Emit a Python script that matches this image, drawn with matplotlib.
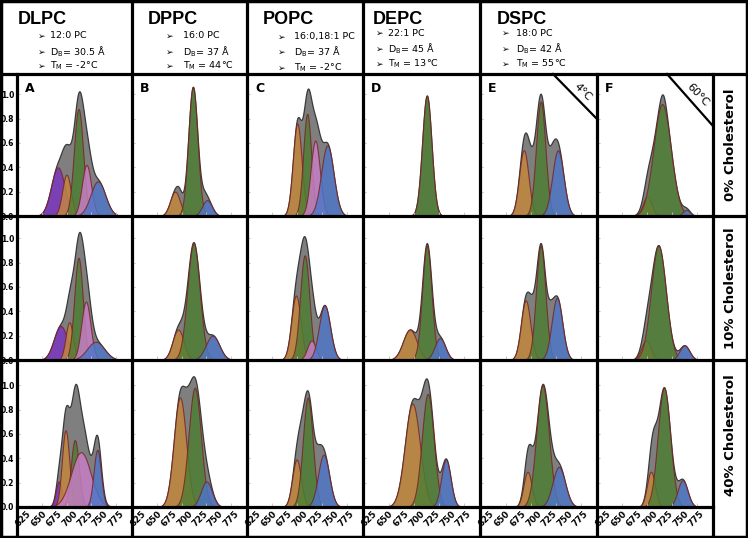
import numpy as np
import matplotlib
matplotlib.use("Agg")
import matplotlib.pyplot as plt

# header info per lipid column
LIPIDS = ["DLPC", "DPPC", "POPC", "DEPC", "DSPC"]
CHAINS = ["12:0 PC", "16:0 PC", "16:0,18:1 PC", "22:1 PC", "18:0 PC"]
THICKNESS = ["30.5", "37", "37", "45", "42"]
MELT_TEMP = ["-2", "44", "-2", "13", "55"]

PANEL_LETTERS = ["A", "B", "C", "D", "E", "F"]
ROW_LABELS = ["0% Cholesterol", "10% Cholesterol", "40% Cholesterol"]
CORNER_TEMPS = ["4°C", "60°C"]
X_TICKS = [625, 650, 675, 700, 725, 750, 775]
Y_TICKS = [0.0, 0.2, 0.4, 0.6, 0.8, 1.0]

# fitted components (centre, height, width); rows = cholesterol, cols = A..F
PURPLE = [
    [(665.5, 0.40, 11), None, None, None, None, None],
    [(670, 0.28, 11), None, None, None, None, None],
    [(667, 0.21, 5), None, None, None, None, None],
]
ORANGE = [
    [(679.5, 0.34, 7), (669, 0.20, 8), (680, 0.76, 7), None, (669, 0.54, 7.5), (680, 0.16, 7)],
    [(684, 0.31, 6), (674, 0.25, 9), (678, 0.53, 7.5), (674, 0.25, 11), (672, 0.49, 7.5), (678, 0.16, 7.5)],
    [(678, 0.63, 6), (677, 0.90, 10), (679, 0.39, 7), (678, 0.85, 12), (675, 0.29, 6.5), (686, 0.29, 6.5)],
]
GREEN = [
    [(699, 0.88, 7.5), (698, 1.06, 7.5), (696, 0.84, 6.5), (701, 0.99, 7.5), (696, 0.94, 7.5), (704, 0.92, 14)],
    [(699, 0.84, 7), (699, 0.96, 10), (692, 0.86, 7.5), (701, 0.94, 7.5), (696, 0.94, 7.5), (698, 0.94, 12)],
    [(693, 0.55, 6.5), (701, 0.98, 10), (697, 0.90, 8), (702.5, 0.93, 9.5), (699, 1.00, 10), (707, 0.98, 10)],
]
PINK = [
    [(712, 0.42, 7.5), None, (709, 0.62, 7.5), None, None, None],
    [(711, 0.48, 7.5), None, (703, 0.16, 7), None, None, None],
    [(703, 0.45, 16), None, None, None, None, None],
]
BLUE = [
    [(730.5, 0.285, 12), (721, 0.13, 8), (728.5, 0.58, 10), None, (723.5, 0.54, 9), (743, 0.05, 6)],
    [(727, 0.15, 14), (730, 0.20, 11), (724, 0.45, 9), (722, 0.18, 8.5), (722, 0.51, 8.5), (740, 0.12, 8)],
    [(729.5, 0.47, 6), (720, 0.21, 9), (722.5, 0.43, 9), (731.5, 0.39, 7.5), (725, 0.33, 10), (737, 0.22, 8)],
]
# extra signal in the measured (grey) envelope not covered by the fits
GRAY_EXTRA = [
    [[(688, 0.12, 6)], [(676, 0.08, 5), (716, 0.05, 5)], [], [], [(680, 0.30, 8), (712, 0.25, 7)], [(705, 0.08, 5)]],
    [[(690, 0.12, 5)], [], [(705, 0.15, 6)], [], [(682, 0.18, 6), (711, 0.15, 5)], []],
    [[(706, 0.20, 8)], [(689, 0.08, 6)], [(686, 0.15, 6), (713, 0.15, 6)], [], [(677, 0.15, 6)], [(690, 0.18, 6)]],
]

COMP_COLORS = ["#7a34c0", "#c4883a", "#4e7d33", "#c87ec8", "#4d76c8"]
GRAY = "#7f7f7f"
EDGE = "#7a2222"

W, H = 748, 538
COL_EDGES = [17, 132, 247, 363, 480, 597, 713]
ROW_EDGES = [74, 216, 360, 507]
PX_PER_UNIT = 121.7
XLIM = (599, 786)


def px_rect(x0, y0, x1, y1):
    return [x0 / W, 1 - y1 / H, (x1 - x0) / W, (y1 - y0) / H]


def gauss(x, peak):
    c, h, w = peak
    return h * np.exp(-0.5 * ((x - c) / w) ** 2)


fig = plt.figure(figsize=(W / 100, H / 100), dpi=100)
fig.patch.set_facecolor("white")

x = np.linspace(XLIM[0], XLIM[1], 600)
for r in range(3):
    for c in range(6):
        x0, x1 = COL_EDGES[c], COL_EDGES[c + 1]
        y0, y1 = ROW_EDGES[r], ROW_EDGES[r + 1]
        ax = fig.add_axes(px_rect(x0, y0, x1, y1))
        comps = []
        for color, peaks in zip(COMP_COLORS, [PURPLE, ORANGE, GREEN, PINK, BLUE]):
            if peaks[r][c] is not None:
                comps.append((color, peaks[r][c]))
        total = np.zeros_like(x)
        for _, p in comps:
            total += gauss(x, p)
        for p in GRAY_EXTRA[r][c]:
            total += gauss(x, p)
        ax.fill_between(x, total, facecolor=GRAY, edgecolor="#3a3a3a", lw=0.9)
        for color, p in comps:
            ax.fill_between(x, gauss(x, p), facecolor=color, edgecolor=EDGE,
                            lw=0.8, alpha=0.82)

        ax.set_xlim(*XLIM)
        ax.set_ylim(0, (y1 - y0) / PX_PER_UNIT)
        for s in ax.spines.values():
            s.set_visible(False)

        ax.set_yticks(Y_TICKS)
        ax.tick_params(axis="y", direction="in", length=2, color="#c0c0c0", pad=2)
        if c == 0:
            ax.set_yticklabels([f"{v:.1f}" for v in Y_TICKS], fontsize=5.5,
                               fontweight="bold")
        else:
            ax.tick_params(axis="y", labelleft=False)

        ax.set_xticks(X_TICKS)
        ax.set_xticks([640, 680, 720, 760], minor=True)
        ax.tick_params(axis="x", which="major", length=0, pad=1.5)
        ax.tick_params(axis="x", which="minor", direction="in", length=3,
                       color="#c0c0c0")
        if r == 2:
            ax.set_xticklabels([str(v) for v in X_TICKS], rotation=45, ha="right",
                               fontsize=6.3, fontweight="bold")
        else:
            ax.tick_params(axis="x", labelbottom=False)

        if r == 0:
            ax.text(8 / (x1 - x0), 1 - 15 / (y1 - y0), PANEL_LETTERS[c],
                    transform=ax.transAxes, fontsize=9, fontweight="bold",
                    va="center", ha="left")

# overlay for the grid, header and labels
ov = fig.add_axes([0, 0, 1, 1], zorder=10)
ov.set_xlim(0, W)
ov.set_ylim(H, 0)
ov.axis("off")
ov.patch.set_alpha(0)


def line(xs, ys, lw=2.3):
    ov.plot(xs, ys, color="black", lw=lw, solid_capstyle="projecting")


# outer border
line([1, W - 1, W - 1, 1, 1], [1, 1, H - 1, H - 1, 1], lw=2.5)
line([0, W], [ROW_EDGES[0]] * 2)
line([0, W], [ROW_EDGES[1]] * 2)
line([0, W], [ROW_EDGES[2]] * 2)
line([COL_EDGES[0], COL_EDGES[-1]], [ROW_EDGES[3]] * 2)
for xc in [132, 247, 363, 480]:
    line([xc, xc], [0, H])
for xc in [17, 597, 713]:
    line([xc, xc], [ROW_EDGES[0], H])

# header text
title_x = [18, 148, 263, 373, 497]
arrow_x = [38, 166, 278, 376, 502]
text_x = [50, 183, 294, 388, 516]
rows_y = [[36, 52, 66], [36, 52, 66], [37, 52, 68], [33, 49, 64], [33, 49, 64]]
for i, name in enumerate(LIPIDS):
    ov.text(title_x[i], 20, name, fontsize=13, fontweight="bold",
            family=["Liberation Sans", "DejaVu Sans"], va="center", ha="left")
    lines = [CHAINS[i],
             r"D$_{\mathrm{B}}$= " + THICKNESS[i] + " Å",
             r"T$_{\mathrm{M}}$ = " + MELT_TEMP[i] + "°C"]
    for yy, txt in zip(rows_y[i], lines):
        ov.text(arrow_x[i], yy, "➢", fontsize=6.5, va="center", ha="left")
        ov.text(text_x[i], yy, txt, fontsize=6.8, va="center", ha="left")

# temperature corners on E and F
line([553, 597], [ROW_EDGES[0], 119], lw=1.6)
ov.text(583, 92, CORNER_TEMPS[0], fontsize=8, rotation=-45, va="center", ha="center")
line([667, 713], [ROW_EDGES[0], 126], lw=1.6)
ov.text(698, 95, CORNER_TEMPS[1], fontsize=8, rotation=-47, va="center", ha="center")

# cholesterol row labels
for yc, lab in zip([145, 288, 435], ROW_LABELS):
    ov.text(731, yc, lab, rotation=90, fontsize=9.5, fontweight="bold",
            va="center", ha="center")

fig.savefig("out.png", dpi=100)
